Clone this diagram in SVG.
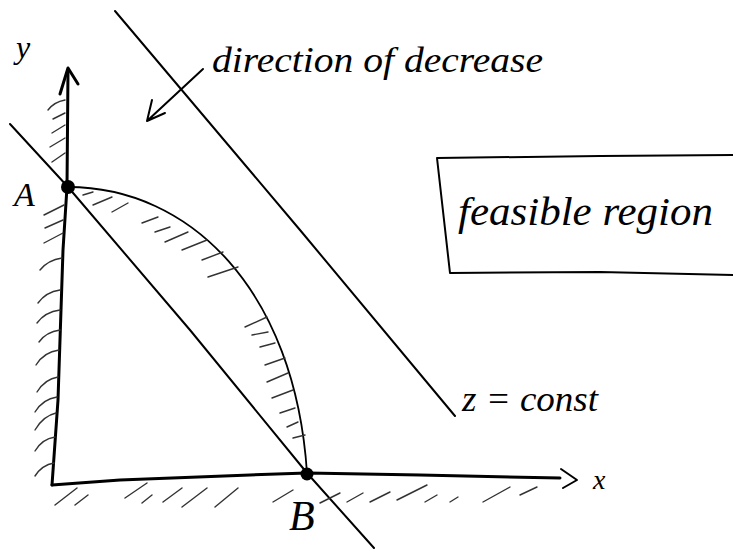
<svg xmlns="http://www.w3.org/2000/svg" width="733" height="549" viewBox="0 0 733 549">
<style>
.ink{fill:none;stroke:#000;stroke-linecap:round;stroke-linejoin:round}
.axis{stroke-width:3}
.line{stroke-width:2}
.curve{stroke-width:1.8}
.hatch{fill:none;stroke:#333;stroke-width:1.4;stroke-linecap:round}
.hand{font-family:"Liberation Serif","DejaVu Serif",serif;font-style:italic;fill:#000}
.dot{fill:#000}
</style>
<rect width="733" height="549" fill="#fff"/>
<g id="connectors">
  <path id="z-const-line" class="ink line" d="M115,11 L300,230 L455,416"/>
  <path id="line-AB" class="ink line" d="M10,124 L68,187 L190,330 L307,473 L374,548"/>
  <path id="direction-arrow" class="ink line" d="M203,69 L147,121 M152,100 L147,121 L165,113"/>
</g>
<g id="axes">
  <path id="y-axis" class="ink axis" d="M68,70 L67,187 L63,250 L58,400 L52,485"/>
  <path id="y-arrow" class="ink axis" d="M60,94 L68,68 L78,84"/>
  <path id="x-axis" class="ink axis" d="M52,485 L120,480 L250,475 L307,473 L420,475 L560,478"/>
  <path id="x-arrow" class="ink line" d="M561,469 L577,480 L563,488"/>
</g>
<g id="feasible-boundary">
  <path class="ink curve" d="M68,187 C190,187 295,290 307,473"/>
  <g class="hatch">
    <path d="M83,195 L93,192 M93,205 L112,197 M112,212 L128,203 M142,223 L158,217 M155,232 L170,227 M165,242 L188,232 M182,250 L207,240 M202,260 L223,252 M208,277 L238,267 M245,327 L267,317 M252,335 L268,332 M260,347 L275,343 M265,365 L285,358 M267,382 L288,373 M272,398 L293,390 M280,413 L295,408 M287,427 L298,422 M293,438 L305,435"/>
  </g>
</g>
<g id="y-hatching" class="hatch">
  <path d="M48,110 Q54,102 65,100 M53,119 L65,113 M52,133 L65,125 M50,147 L65,138 M52,162 L65,153 M44,215 L64,205 M45,228 L63,220 M44,243 L63,233 M40,270 Q48,260 62,258 M38,303 Q46,292 60,290 M37,323 Q45,312 60,310 M39,342 Q46,332 60,330 M36,365 Q44,352 59,350 M37,392 Q45,379 58,377 M35,412 Q43,399 57,397 M35,430 Q43,416 56,413 M35,451 Q42,439 55,437 M35,476 Q42,465 54,463"/>
</g>
<g id="x-hatching" class="hatch">
  <path d="M55,505 L77,488 M75,505 L88,495 M125,498 L147,483 M142,503 L152,495 M163,502 L182,488 M182,507 L207,488 M215,507 L238,488 M273,502 L293,490 M320,503 L340,493 M347,502 L363,493 M370,502 L390,492 M397,500 L427,485 M425,502 L437,495 M450,502 L458,497 M483,502 L510,487 M520,495 L537,487"/>
</g>
<g id="point-A">
  <circle class="dot" cx="68" cy="187" r="7"/>
  <text class="hand" x="14" y="206" font-size="34">A</text>
</g>
<g id="point-B">
  <circle class="dot" cx="307" cy="474" r="6.5"/>
  <text class="hand" x="289" y="530" font-size="42">B</text>
</g>
<g id="label-y"><text class="hand" x="16" y="58" font-size="32">y</text></g>
<g id="label-x"><text class="hand" x="593" y="489" font-size="28">x</text></g>
<g id="label-direction"><text class="hand" x="212" y="72" font-size="36" textLength="331" lengthAdjust="spacingAndGlyphs">direction of decrease</text></g>
<g id="label-z"><text class="hand" x="462" y="411" font-size="36" textLength="136" lengthAdjust="spacingAndGlyphs">z = const</text></g>
<g id="feasible-region-box">
  <path class="ink line" d="M437,158 L600,156 L733,155 M437,158 L450,273 M450,273 L600,272 L733,275"/>
  <text class="hand" x="458" y="225" font-size="40" textLength="255" lengthAdjust="spacingAndGlyphs">feasible region</text>
</g>
</svg>
